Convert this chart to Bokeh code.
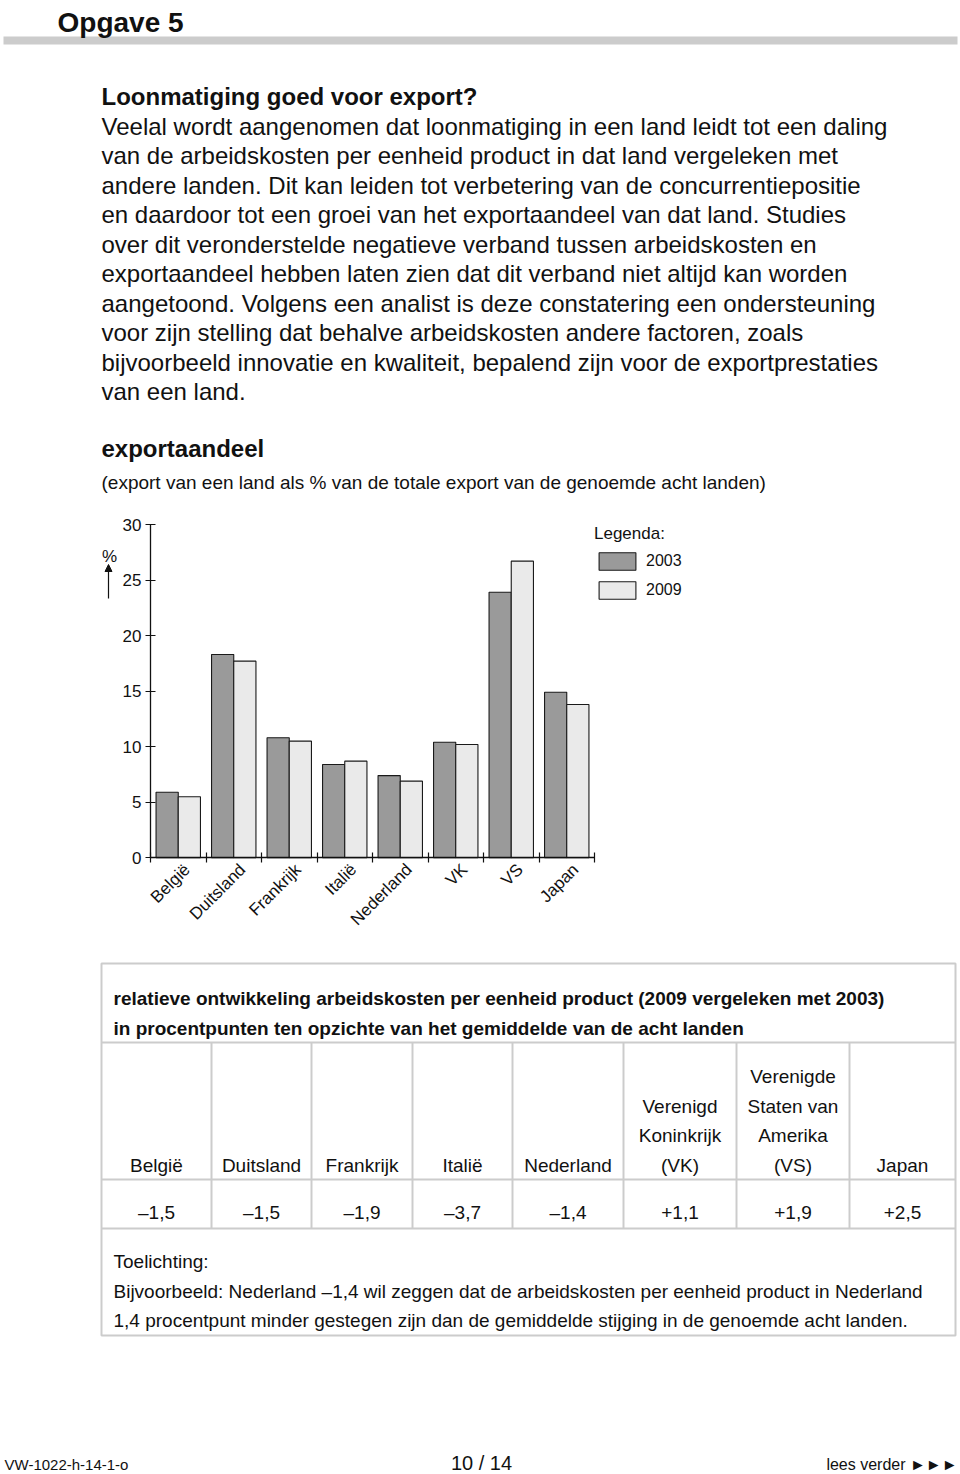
import numpy as np
from math import pi
from bokeh.plotting import figure
from bokeh.models import (ColumnDataSource, Range1d, FixedTicker, CustomJSTickFormatter,
                          Legend, LegendItem, Arrow, NormalHead, LinearAxis)
from bokeh.core.properties import value
from bokeh.embed import file_html
from bokeh.resources import INLINE

FONT = "Liberation Sans"
INK = "#111111"

# ---------------- data ----------------
countries = ["België", "Duitsland", "Frankrijk", "Italië", "Nederland", "VK", "VS", "Japan"]
export_2003 = [5.9, 18.3, 10.8, 8.4, 7.4, 10.4, 23.9, 14.9]
export_2009 = [5.5, 17.7, 10.5, 8.7, 6.9, 10.2, 26.7, 13.8]
years = ["2003", "2009"]
y_ticks = [0, 5, 10, 15, 20, 25, 30]

table_headers = [["België"], ["Duitsland"], ["Frankrijk"], ["Italië"], ["Nederland"],
                 ["Verenigd", "Koninkrijk", "(VK)"],
                 ["Verenigde", "Staten van", "Amerika", "(VS)"], ["Japan"]]
table_values = ["–1,5", "–1,5", "–1,9", "–3,7", "–1,4", "+1,1", "+1,9", "+2,5"]

page_heading = "Opgave 5"
intro_title = "Loonmatiging goed voor export?"
intro_lines = [
    "Veelal wordt aangenomen dat loonmatiging in een land leidt tot een daling",
    "van de arbeidskosten per eenheid product in dat land vergeleken met",
    "andere landen. Dit kan leiden tot verbetering van de concurrentiepositie",
    "en daardoor tot een groei van het exportaandeel van dat land. Studies",
    "over dit veronderstelde negatieve verband tussen arbeidskosten en",
    "exportaandeel hebben laten zien dat dit verband niet altijd kan worden",
    "aangetoond. Volgens een analist is deze constatering een ondersteuning",
    "voor zijn stelling dat behalve arbeidskosten andere factoren, zoals",
    "bijvoorbeeld innovatie en kwaliteit, bepalend zijn voor de exportprestaties",
    "van een land.",
]
chart_title = "exportaandeel"
chart_subtitle = "(export van een land als % van de totale export van de genoemde acht landen)"
unit_label = "%"
legend_title = "Legenda:"
table_title_lines = [
    "relatieve ontwikkeling arbeidskosten per eenheid product (2009 vergeleken met 2003)",
    "in procentpunten ten opzichte van het gemiddelde van de acht landen",
]
note_lines = [
    "Toelichting:",
    "Bijvoorbeeld: Nederland –1,4 wil zeggen dat de arbeidskosten per eenheid product in Nederland",
    "1,4 procentpunt minder gestegen zijn dan de gemiddelde stijging in de genoemde acht landen.",
]
footer_left = "VW-1022-h-14-1-o"
footer_mid = "10 / 14"
footer_right = "lees verder ►►►"

# ---------------- page figure (page pixel coordinates) ----------------
W, H = 960, 1474
p = figure(width=W, height=H, x_range=Range1d(0, W), y_range=Range1d(H, 0),
           x_axis_type=None, y_axis_type=None, output_backend="svg",
           toolbar_location=None, min_border=0)
p.grid.visible = False
p.outline_line_color = None

# chart scales: category units and percent units placed on the page
X0, PX_CAT = 150.0, 55.5      # page x of category 0, px per category
Y0, PX_PCT = 857.3, 11.11     # page y of 0 %, px per percent
p.extra_x_ranges = {"cat": Range1d(-X0 / PX_CAT, (W - X0) / PX_CAT)}
p.extra_y_ranges = {"pct": Range1d((Y0 - H) / PX_PCT, Y0 / PX_PCT)}


def put(xs, ys, texts, size, bold=False, align="left", baseline="alphabetic", color=INK):
    src = ColumnDataSource(dict(x=list(xs), y=list(ys), t=list(texts)))
    p.text(x="x", y="y", text="t", source=src, text_font=value(FONT),
           text_font_size=size, text_font_style="bold" if bold else "normal",
           text_align=align, text_baseline=baseline, text_color=color)


# ---------------- top text block ----------------
p.quad(left=3, right=957, top=36, bottom=44, fill_color="#cccccc", line_color=None)
put([57], [22], [page_heading], "28px", bold=True)
put([101], [96], [intro_title], "24px", bold=True)
put([101] * len(intro_lines), [125.5 + 29.5 * i for i in range(len(intro_lines))],
    intro_lines, "24px")
put([101], [448], [chart_title], "24px", bold=True)
put([101], [482], [chart_subtitle], "19px")

# ---------------- bar chart ----------------
n = len(countries)
idx = np.arange(n)
src = ColumnDataSource(dict(x03=idx + 0.3, x09=idx + 0.7, v03=export_2003, v09=export_2009))
r03 = p.vbar(x="x03", top="v03", bottom=0, width=0.4, source=src,
             x_range_name="cat", y_range_name="pct",
             fill_color="#9a9a9a", line_color="#1a1a1a", line_width=1.1)
r09 = p.vbar(x="x09", top="v09", bottom=0, width=0.4, source=src,
             x_range_name="cat", y_range_name="pct",
             fill_color="#eaeaea", line_color="#1a1a1a", line_width=1.1)

xa = LinearAxis(x_range_name="cat", y_range_name="pct", fixed_location=0, bounds=(0, n))
xa.ticker = FixedTicker(ticks=[i + 0.66 for i in range(n)], minor_ticks=list(range(n + 1)))
xa.formatter = CustomJSTickFormatter(args=dict(names=countries),
                                     code="const i = Math.floor(tick); return (i >= 0 && i < names.length) ? names[i] : '';")
xa.major_tick_line_color = None
xa.major_tick_in = 0
xa.major_tick_out = 0
xa.minor_tick_line_color = INK
xa.minor_tick_line_width = 1.2
xa.minor_tick_in = 5
xa.minor_tick_out = 5
xa.major_label_orientation = pi / 4
xa.major_label_standoff = 4
xa.axis_line_color = INK
xa.axis_line_width = 1.3
xa.major_label_text_font = FONT
xa.major_label_text_font_size = "17px"
xa.major_label_text_color = INK
p.add_layout(xa, "below")

ya = LinearAxis(x_range_name="cat", y_range_name="pct", fixed_location=0, bounds=(0, 30))
ya.ticker = FixedTicker(ticks=y_ticks, minor_ticks=[])
ya.major_tick_in = 5
ya.major_tick_out = 5
ya.major_tick_line_color = INK
ya.major_tick_line_width = 1.2
ya.minor_tick_line_color = None
ya.axis_line_color = INK
ya.axis_line_width = 1.3
ya.major_label_standoff = 4
ya.major_label_text_font = FONT
ya.major_label_text_font_size = "17px"
ya.major_label_text_color = INK
p.add_layout(ya, "left")

put([109], [556], [unit_label], "17px", align="center")
p.add_layout(Arrow(end=NormalHead(size=7, fill_color=INK, line_color=INK),
                   x_start=108, y_start=598, x_end=108, y_end=564,
                   line_color=INK, line_width=1.2))

legend = Legend(items=[LegendItem(label=years[0], renderers=[r03]),
                       LegendItem(label=years[1], renderers=[r09])],
                title=legend_title, location=(594, H - 601),
                glyph_width=46, glyph_height=22, spacing=7, label_standoff=6,
                padding=0, margin=0, border_line_color=None, background_fill_alpha=0,
                title_text_font=FONT, title_text_font_size="17px", title_text_font_style="normal",
                title_text_color=INK, title_standoff=6,
                label_text_font=FONT, label_text_font_size="16px", label_text_color=INK)
p.add_layout(legend)

# ---------------- table ----------------
GRID = "#cccccc"
bounds = [101, 211, 311, 412, 512, 623, 736, 849, 955]
p.quad(left=bounds[0], right=bounds[-1], top=963, bottom=1335, fill_color=None,
       line_color=GRID, line_width=2)
hy = [1042, 1179, 1228]
p.segment(x0=[bounds[0]] * 3, x1=[bounds[-1]] * 3, y0=hy, y1=hy, line_color=GRID, line_width=2)
inner = bounds[1:-1]
p.segment(x0=inner, x1=inner, y0=[1042] * len(inner), y1=[1228] * len(inner),
          line_color=GRID, line_width=2)

put([113, 113], [998, 1027.5], table_title_lines, "19px", bold=True)

row_base = [1076, 1105.5, 1135, 1164.5]
hx, hyy, ht = [], [], []
for c, lines in enumerate(table_headers):
    cx = (bounds[c] + bounds[c + 1]) / 2
    k = len(lines)
    for j, s in enumerate(lines):
        hx.append(cx)
        hyy.append(row_base[len(row_base) - k + j])
        ht.append(s)
put(hx, hyy, ht, "19px", align="center")
put([(bounds[c] + bounds[c + 1]) / 2 for c in range(n)], [1212] * n, table_values,
    "19px", align="center")
put([113] * 3, [1261, 1290.5, 1320], note_lines, "19px")

# ---------------- footer ----------------
put([4], [1464], [footer_left], "15px")
put([481], [1462], [footer_mid], "20px", align="center")
put([957], [1464], [footer_right], "16px", align="right")

open("out.html", "w").write(file_html(p, INLINE))
